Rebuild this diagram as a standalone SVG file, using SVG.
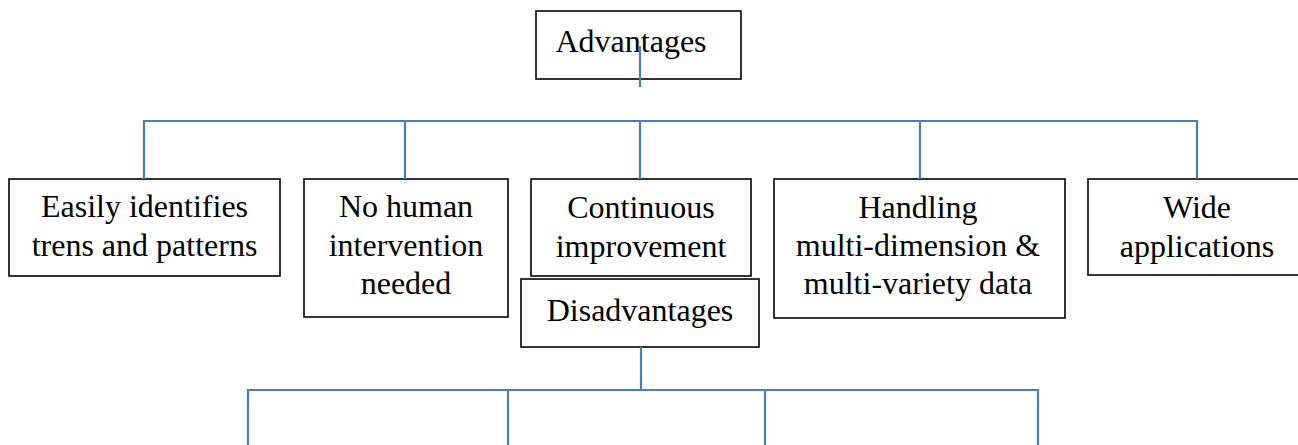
<svg xmlns="http://www.w3.org/2000/svg" width="1298" height="445" viewBox="0 0 1298 445" font-family="'Liberation Serif', 'Times New Roman', 'DejaVu Serif', serif">
<style>
.box{fill:#fff;stroke:#000;stroke-width:1.6}
.t{font-family:'Liberation Serif','Times New Roman','DejaVu Serif',serif;font-size:32px;fill:#000;text-anchor:middle}
.c{fill:none;stroke:#4A7EBB;stroke-width:2.2}
</style>
<rect width="1298" height="445" fill="#fff"/>
<g id="advantages"><rect class="box" x="536" y="11" width="205" height="68"/><text class="t" x="631" y="52">Advantages</text></g>
<g id="n1"><rect class="box" x="9" y="179" width="271" height="97"/><text class="t" x="144.5" y="217">Easily identifies</text><text class="t" x="144.5" y="256">trens and patterns</text></g>
<g id="n2"><rect class="box" x="304" y="179" width="204" height="138"/><text class="t" x="406" y="217">No human</text><text class="t" x="406" y="256">intervention</text><text class="t" x="406" y="294">needed</text></g>
<g id="n3"><rect class="box" x="531" y="179" width="220" height="97"/><text class="t" x="641" y="218">Continuous</text><text class="t" x="641" y="257">improvement</text></g>
<g id="n4"><rect class="box" x="774" y="179" width="291" height="139"/><text class="t" x="918" y="218">Handling</text><text class="t" x="918" y="256">multi-dimension &amp;</text><text class="t" x="918" y="294">multi-variety data</text></g>
<g id="n5"><rect class="box" x="1088" y="179" width="222" height="96"/><text class="t" x="1197" y="218">Wide</text><text class="t" x="1197" y="257">applications</text></g>
<g id="disadvantages"><rect class="box" x="521" y="279" width="238" height="68"/><text class="t" x="640" y="321">Disadvantages</text></g>
<g id="connectors">
<path class="c" d="M640 46V87"/>
<path class="c" d="M144 179V121H1197V179M405 121V179M640 121V179M920 121V179"/>
<path class="c" d="M641 347V390M248 445V390H1038V445M508 390V445M765 390V445"/>
</g>
</svg>
